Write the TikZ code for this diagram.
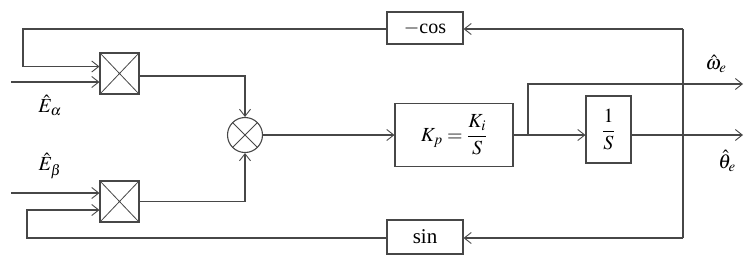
\documentclass[tikz,border=0pt]{standalone}
\usepackage{mathptmx}
\usepackage[no-math]{fontspec}
\setmainfont{Liberation Serif}
\usetikzlibrary{arrows.meta}
\begin{document}
\begin{tikzpicture}[x=1pt,y=-1pt,
  ln/.style={draw=black!72, line width=1.1pt},
  arr/.style={ln, -{Straight Barb[length=7pt,width=11pt,line width=0.9pt]}},
  blk/.style={draw=black!72, line width=1.1pt, inner sep=0pt, fill=white},
  mult/.style={blk, minimum width=39pt, minimum height=41pt,
    path picture={\draw[black!72, line width=0.8pt]
      (path picture bounding box.north west) -- (path picture bounding box.south east)
      (path picture bounding box.north east) -- (path picture bounding box.south west);}},
  sumc/.style={blk, circle, minimum size=35pt,
    path picture={\draw[black!72, line width=0.8pt]
      (path picture bounding box.north west) -- (path picture bounding box.south east)
      (path picture bounding box.north east) -- (path picture bounding box.south west);}},
  lbl/.style={font=\fontsize{20}{24}\selectfont, inner sep=0pt}
]
\useasboundingbox (0,0) rectangle (752,263);

% blocks
\node[mult] (m1) at (119.5,73.5) {};
\node[mult] (m2) at (119.5,201.5) {};
\node[sumc] (c) at (245,135) {};
\node[blk, minimum width=118pt, minimum height=63pt, font=\fontsize{20}{24}\selectfont] (kp) at (454,135) {$\displaystyle K_p=\frac{K_i}{S}$};
\node[blk, minimum width=45pt, minimum height=67pt, font=\fontsize{20}{24}\selectfont] (int) at (608.5,129.5) {$\displaystyle\frac{1}{S}$};
\node[blk, minimum width=76pt, minimum height=32pt, font=\fontsize{20}{24}\selectfont] (cos) at (425,28) {$-$cos};
\node[blk, minimum width=76pt, minimum height=34pt, font=\fontsize{21}{24}\selectfont] (sin) at (425,237) {sin};

% coordinates
\coordinate (rt) at (683,29);
\coordinate (rb) at (683,238);
\coordinate (tl) at (23,29);
\coordinate (bl) at (27,238);
\coordinate (ea) at (11,82);
\coordinate (eb) at (11,193);
\coordinate (br) at (528,135);
\coordinate (wo) at (743,84);
\coordinate (to) at (743,135);

% connectors
\draw[ln] (rt) -- (rb);
\draw[arr] (rt) -- (rt -| cos.east);
\draw[arr] (rt -| cos.west) -- (tl) |- ([yshift=7pt]m1.west);
\draw[arr] (ea) -- (ea -| m1.west);
\draw[arr] ([yshift=-2.5pt]m1.east) -| (c.north);
\draw[arr] (rb) -- (rb -| sin.east);
\draw[arr] (rb -| sin.west) -- (bl) |- ([yshift=-8.5pt]m2.west);
\draw[arr] (eb) -- (eb -| m2.west);
\draw[arr] (m2.east) -| (c.south);
\draw[arr] (c.east) -- (c.east -| kp.west);
\draw[arr] (kp.east) -- (kp.east -| int.west);
\draw[arr] (br) |- (wo);
\draw[arr] (int.east |- to) -- (to);

% labels
\node[lbl] (la) at (50,105) {$\hat{E}_\alpha$};
\node[lbl] (lb) at (50,166) {$\hat{E}_\beta$};
\node[lbl] (lw) at (716,64) {$\hat{\omega}_e$};
\node[lbl] (lt) at (727,161) {$\hat{\theta}_e$};
\end{tikzpicture}
\end{document}
